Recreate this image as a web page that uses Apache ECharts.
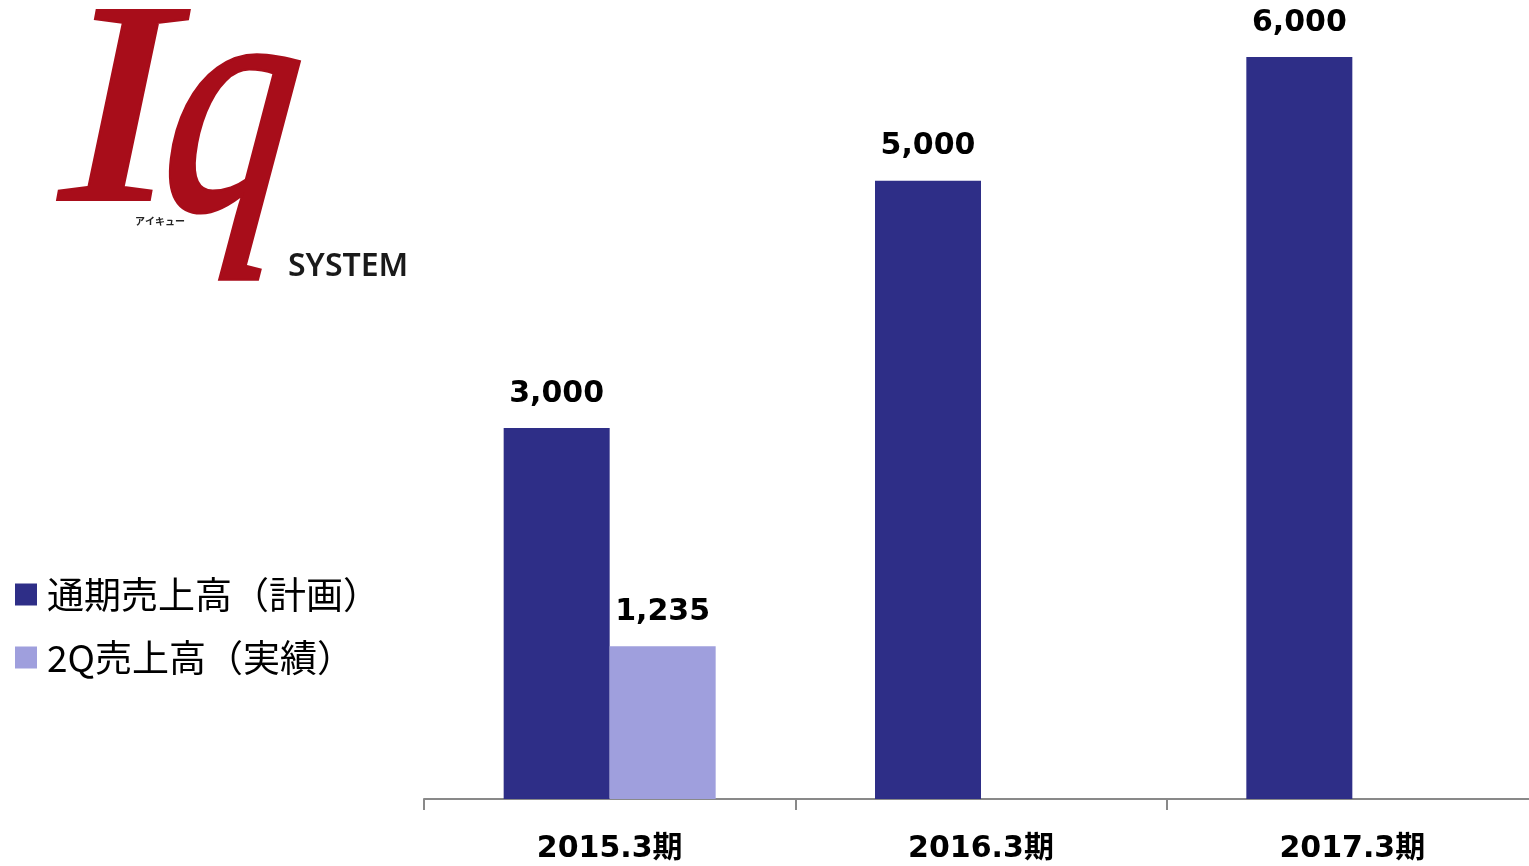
<!DOCTYPE html>
<html>
<head>
<meta charset="utf-8">
<script src="https://cdn.jsdelivr.net/npm/echarts@6/dist/echarts.min.js"></script>
<style>
html,body{margin:0;padding:0;background:#fff;}
#chart{width:1529px;height:866px;}
</style>
</head>
<body>
<div id="chart"></div>
<script>
const categories = ['2015.3期', '2016.3期', '2017.3期'];
const seriesNames = ['通期売上高（計画）', '2Q売上高（実績）'];
const planValues = [3000, 5000, 6000];
const actualValues = [1235, null, null];
const yMax = 6000;

const chart = echarts.init(document.getElementById('chart'));
const labelFont = "'DejaVu Sans', 'Noto Sans CJK JP', sans-serif";
const fmt = p => p.value == null ? '' : Number(p.value).toLocaleString('en-US');

const option = {
  backgroundColor: '#ffffff',
  animation: false,
  grid: { left: 424, width: 1114, top: 57, height: 742, outerBoundsMode: 'none', containLabel: false },
  legend: {
    orient: 'vertical',
    left: 15,
    top: 576,
    padding: 0,
    icon: 'rect',
    itemWidth: 22,
    itemHeight: 22,
    itemGap: 26,
    data: seriesNames,
    textStyle: { fontSize: 37, fontFamily: "'Noto Sans CJK JP', sans-serif", color: '#000', padding: [0, 0, 0, 5] }
  },
  xAxis: {
    type: 'category',
    data: categories,
    axisLine: { lineStyle: { color: '#898989', width: 2 } },
    axisTick: { show: true, length: 11, lineStyle: { color: '#898989', width: 2 } },
    axisLabel: { margin: 35, fontSize: 30, fontWeight: 'bold', fontFamily: labelFont, color: '#000' }
  },
  yAxis: { type: 'value', min: 0, max: yMax, show: false, splitLine: { show: false } },
  series: [
    {
      name: seriesNames[0], type: 'bar', data: planValues, barWidth: 106, barGap: '0%',
      itemStyle: { color: '#2e2e87' },
      label: { show: true, position: 'top', distance: 19, formatter: fmt, fontSize: 30, fontWeight: 'bold', fontFamily: labelFont, color: '#000' }
    },
    {
      name: seriesNames[1], type: 'bar', data: actualValues, barWidth: 106, barGap: '0%',
      itemStyle: { color: '#9f9fdd' },
      label: { show: true, position: 'top', distance: 19, formatter: fmt, fontSize: 30, fontWeight: 'bold', fontFamily: labelFont, color: '#000' }
    }
  ],
  graphic: [
    { type: 'text', x: 60, y: -20, scaleX: 1.2, style: { text: 'I', font: "italic 287px 'Liberation Serif', serif", fill: '#a80d1a', stroke: '#a80d1a', lineWidth: 4 } },
    { type: 'text', x: 187, y: -39, scaleX: 0.8, skewX: -0.12, style: { text: 'q', font: "italic 325px 'Liberation Serif', serif", fill: '#a80d1a', stroke: '#a80d1a', lineWidth: 5 } },
    { type: 'text', x: 135, y: 216, style: { text: 'アイキュー', font: "bold 10px 'Noto Sans CJK JP', sans-serif", fill: '#222' } },
    { type: 'text', x: 288, y: 251, style: { text: 'SYSTEM', font: "600 32px 'Noto Sans', sans-serif", fill: '#1a1a1a' } }
  ]
};
chart.setOption(option);
</script>
</body>
</html>
